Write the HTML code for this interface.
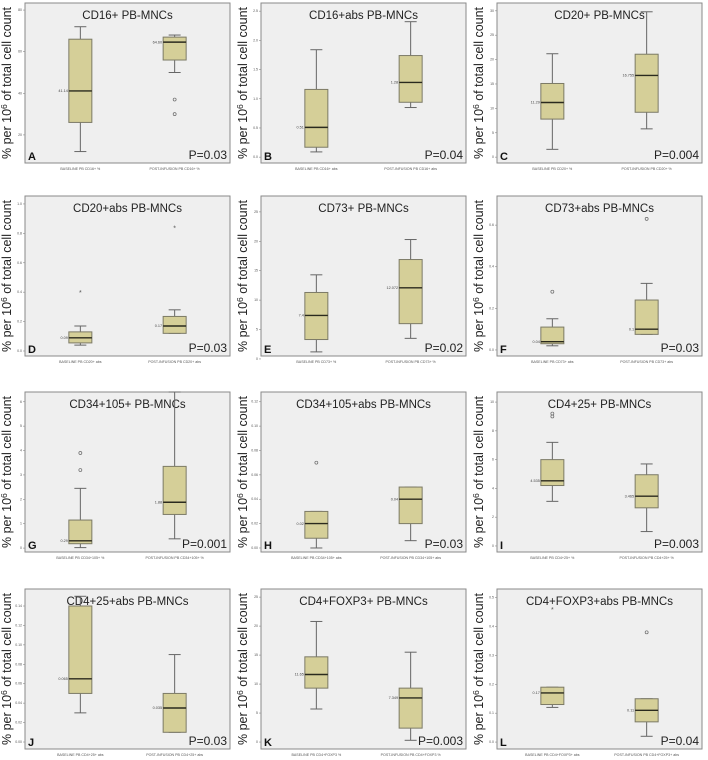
<!DOCTYPE html>
<html><head><meta charset="utf-8"><style>
body{margin:0;background:#fff;}
svg{display:block;font-family:"Liberation Sans",Arial,sans-serif;}
</style></head><body>
<svg id="fig" width="708" height="760" viewBox="0 0 708 760"></svg>
<script>
const titles=["CD16+ PB-MNCs","CD16+abs PB-MNCs","CD20+ PB-MNCs","CD20+abs PB-MNCs","CD73+ PB-MNCs","CD73+abs PB-MNCs","CD34+105+ PB-MNCs","CD34+105+abs PB-MNCs","CD4+25+ PB-MNCs","CD4+25+abs PB-MNCs","CD4+FOXP3+ PB-MNCs","CD4+FOXP3+abs PB-MNCs"];
const letters=["A","B","C","D","E","F","G","H","I","J","K","L"];
const pValues=["P=0.03","P=0.04","P=0.004","P=0.03","P=0.02","P=0.03","P=0.001","P=0.03","P=0.003","P=0.03","P=0.003","P=0.04"];
const baseLabels=["BASELINE PB CD16+ %","BASELINE PB CD16+ abs","BASELINE PB CD20+ %","BASELINE PB CD20+ abs","BASELINE PB CD73+ %","BASELINE PB CD73+ abs","BASELINE PB CD34+105+ %","BASELINE PB CD34+105+ abs","BASELINE PB CD4+25+ %","BASELINE PB CD4+25+ abs","BASELINE PB CD4+FOXP3 %","BASELINE PB CD4+FOXP3+ abs"];
const postLabels=["POST-INFUSION PB CD16+ %","POST-INFUSION PB CD16+ abs","POST-INFUSION PB CD20+ %","POST-INFUSION PB CD20+ abs","POST-INFUSION PB CD73+ %","POST-INFUSION PB CD73+ abs","POST-INFUSION PB CD34+105+ %","POST-INFUSION PB CD34+105+ abs","POST-INFUSION PB CD4+25+ %","POST-INFUSION PB CD4+25+ abs","POST-INFUSION PB CD4+FOXP3 %","POST-INFUSION PB CD4+FOXP3+ abs"];
const yMins=[6.5,-0.1,-1.2,-0.034,0.5,-0.029,-0.16,-0.0033,-0.42,-0.0072,-1.2,-0.024];
const yMaxs=[83.4,2.64,31.6,1.054,27.7,0.74,6.4,0.128,10.7,0.1575,26.4,0.53];
const yTicks=[[20,40,60,80],[0,0.5,1,1.5,2,2.5],[0,5,10,15,20,25,30],[0,0.2,0.4,0.6,0.8,1.0],[0,5,10,15,20,25],[0,0.2,0.4,0.6],[0,1,2,3,4,5,6],[0,0.02,0.04,0.06,0.08,0.10,0.12],[0,2,4,6,8,10],[0,0.02,0.04,0.06,0.08,0.10,0.12,0.14],[0,5,10,15,20,25],[0,0.1,0.2,0.3,0.4,0.5]];
const tickDigits=[0,1,0,1,0,1,0,2,0,2,0,1];
// [min,q1,median,q3,max]
const baseStats=[[12,26,41.14,66,72],[0.09,0.17,0.51,1.16,1.84],[1.6,7.8,11.2,15.1,21.2],[0.04,0.055,0.09,0.13,0.17],[1.2,3.3,7.4,11.3,14.3],[0.02,0.03,0.04,0.11,0.15],[0.02,0.18,0.3,1.15,2.45],[0,0.008,0.02,0.03,0.03],[3.1,4.2,4.53,6.0,7.2],[0.03,0.05,0.065,0.14,0.15],[5.7,9.3,11.65,14.7,20.8],[0.12,0.13,0.17,0.19,0.19]];
const postStats=[[50,56,64.6,67,68],[0.85,0.94,1.28,1.74,2.32],[5.8,9.2,16.75,21.1,29.8],[0.12,0.12,0.17,0.235,0.28],[3.5,6.0,12.1,16.9,20.3],[0.075,0.075,0.1,0.24,0.32],[0.38,1.38,1.88,3.35,6.4],[0.006,0.02,0.04,0.05,0.05],[1.0,2.65,3.46,4.95,5.7],[0.01,0.01,0.035,0.05,0.09],[0.3,2.4,7.6,9.3,15.5],[0.02,0.07,0.11,0.15,0.15]];
const baseMedLabels=["41.14","0.51","11.29","0.09","7.4","0.04","0.29","0.02","4.535","0.065","11.65","0.17"];
const postMedLabels=["64.60","1.28","16.755","0.17","12.072","0.1","1.88","0.04","3.465","0.035","7.349","0.11"];
const baseOutliers=[[],[],[],[],[],[0.28],[3.2,3.9],[0.07],[9.0,9.2],[],[],[]];
const postOutliers=[[37,30],[],[],[],[],[0.63],[],[],[],[],[],[0.38]];
const baseExtremes=[[],[],[],[0.40],[],[],[],[],[],[],[],[0.46]];
const postExtremes=[[],[],[],[0.84],[],[],[],[],[],[],[],[]];

const colLefts=[25,261,497], rowTops=[3,196,392,589], PW=205, PH=160;
const svg=document.getElementById('fig');
const NS='http://www.w3.org/2000/svg';
function mk(tag,attrs,parent,text){const e=document.createElementNS(NS,tag);for(const k in attrs)e.setAttribute(k,attrs[k]);if(text!==undefined)e.textContent=text;parent.appendChild(e);return e;}

for(let i=0;i<12;i++){
  const L=colLefts[i%3], T=rowTops[Math.floor(i/3)];
  const g=mk('g',{},svg);
  
  
  const y=v=>T+PH-(v-yMins[i])/(yMaxs[i]-yMins[i])*PH;
  const bg=mk('rect',{x:L,y:T,width:PW,height:PH,fill:'#efefef',stroke:'#8a8a8a','stroke-width':1},g);
  
  
  const yl=mk('text',{x:0,y:0,transform:`translate(${L-14},${T+PH/2}) rotate(-90)`,'text-anchor':'middle','font-size':12.5,fill:'#222'},g);
  
  
  yl.innerHTML='% per 10<tspan dy="-4" font-size="8.5">6</tspan><tspan dy="4"> of total cell count</tspan>';
  yTicks[i].forEach(t=>{
    const ty=y(t);
    const tk=mk('line',{x1:L-2,x2:L,y1:ty,y2:ty,stroke:'#888','stroke-width':0.6},g);
    
    
    const tl=mk('text',{x:L-3,y:ty+1,'text-anchor':'end','font-size':3.5,fill:'#555'},g,t.toFixed(tickDigits[i]));
    
    
  });
  const tt=mk('text',{x:L+PW/2,y:T+16,'text-anchor':'middle','font-size':11.5,fill:'#222'},g,titles[i]);
  
  
  const lt=mk('text',{x:L+3,y:T+PH-3,'font-size':11,'font-weight':'bold',fill:'#111'},g,letters[i]);
  
  
  const pv=mk('text',{x:L+PW-3,y:T+PH-4,'text-anchor':'end','font-size':12,fill:'#222'},g,pValues[i]);
  
  
  const groups=[[baseStats[i],baseMedLabels[i],baseOutliers[i],baseExtremes[i],baseLabels[i],0.27],[postStats[i],postMedLabels[i],postOutliers[i],postExtremes[i],postLabels[i],0.73]];
  groups.forEach((gr,k)=>{
    const [s,ml,outs,ext,xl,fx]=gr;
    const cx=L+PW*fx, bw=23;
    const w1=mk('line',{x1:cx,x2:cx,y1:y(s[0]),y2:y(s[1]),stroke:'#666','stroke-width':1},g);
    
    
    const w2=mk('line',{x1:cx,x2:cx,y1:y(s[3]),y2:y(s[4]),stroke:'#666','stroke-width':1},g);
    
    
    [s[0],s[4]].forEach(v=>{
      const c=mk('line',{x1:cx-6,x2:cx+6,y1:y(v),y2:y(v),stroke:'#666','stroke-width':1},g);
      
      
    });
    const bx=mk('rect',{x:cx-bw/2,y:y(s[3]),width:bw,height:Math.max(0.5,y(s[1])-y(s[3])),fill:'#d5cf98',stroke:'#7c7a66','stroke-width':1},g);
    
    
    const md=mk('line',{x1:cx-bw/2,x2:cx+bw/2,y1:y(s[2]),y2:y(s[2]),stroke:'#2a2a1e','stroke-width':1.4},g);
    
    
    const mt=mk('text',{x:cx-bw/2-1,y:y(s[2])+1.2,'text-anchor':'end','font-size':3.8,fill:'#444'},g,ml);
    
    
    outs.forEach(v=>{
      const o=mk('circle',{cx:cx,cy:y(v),r:1.5,fill:'none',stroke:'#666','stroke-width':0.7},g);
      
      
    });
    ext.forEach(v=>{
      const o=mk('text',{x:cx,y:y(v)+3,'text-anchor':'middle','font-size':7,fill:'#555'},g,'*');
      
      
    });
    const xt=mk('text',{x:cx,y:T+PH+7,'text-anchor':'middle','font-size':3.6,fill:'#555'},g,xl);
    
    
  });
}
</script>
</body></html>
